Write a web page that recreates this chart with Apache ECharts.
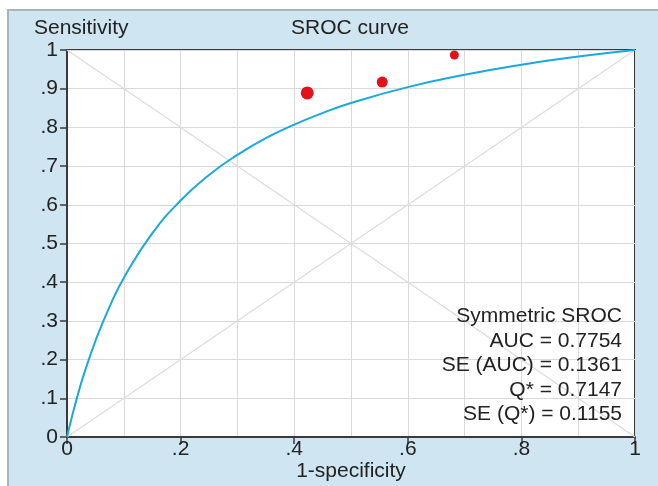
<!DOCTYPE html>
<html>
<head>
<meta charset="utf-8">
<script src="https://cdn.jsdelivr.net/npm/echarts@6/dist/echarts.min.js"></script>
<style>
html,body{margin:0;padding:0;background:#fff;}
#c{width:658px;height:486px;}
</style>
</head>
<body>
<div id="c"></div>
<script>
// SROC curve
var curveX = [0, 0.01, 0.02, 0.03, 0.05, 0.075, 0.1, 0.15, 0.2, 0.25, 0.3, 0.35, 0.4, 0.45, 0.5, 0.6, 0.7, 0.8, 0.9, 1];
var curveY = [0, 0.06, 0.114, 0.163, 0.248, 0.337, 0.411, 0.526, 0.611, 0.677, 0.729, 0.772, 0.807, 0.837, 0.863, 0.904, 0.936, 0.962, 0.983, 1];
// Study points
var studyX = [0.423, 0.555, 0.682];
var studyY = [0.889, 0.917, 0.987];
var studySize = [13, 11, 9];
var statsLines = ['Symmetric SROC', 'AUC = 0.7754', 'SE (AUC) = 0.1361', 'Q* = 0.7147', 'SE (Q*) = 0.1155'];

var FONT = 'Liberation Sans, Arial, sans-serif';
var FS = 21;
var chart = echarts.init(document.getElementById('c'));
function fmt(v){
  if (Math.abs(v) < 1e-9) return '0';
  if (Math.abs(v - 1) < 1e-9) return '1';
  return v.toFixed(1).replace(/^0/, '');
}
var curveData = curveX.map(function(x, i){ return [x, curveY[i]]; });
var studyData = studyX.map(function(x, i){ return {value:[x, studyY[i]], symbolSize: studySize[i]}; });

chart.setOption({
  animation: false,
  textStyle: {fontFamily: FONT},
  graphic: [
    {type:'rect', z:-10, shape:{x:8, y:10, width:660, height:490},
     style:{fill:'#cfe5f1', stroke:'#a9b4ba', lineWidth:2}},
    {type:'text', z:10, x:622, y:304,
     style:{text: statsLines.join('\n'), font: FS + 'px ' + FONT, fill:'#222', textAlign:'right', lineHeight:24.5}}
  ],
  title: [
    {text:'SROC curve', left:291, top:18, textStyle:{fontSize:FS, fontWeight:'normal', color:'#222', fontFamily:FONT}, padding:0},
    {text:'Sensitivity', left:34, top:18, textStyle:{fontSize:FS, fontWeight:'normal', color:'#222', fontFamily:FONT}, padding:0}
  ],
  grid: {left:67, right:23, top:50, bottom:49, outerBoundsMode:'none', containLabel:false,
         show:true, backgroundColor:'#fff', borderColor:'#3a3a3a', borderWidth:2},
  xAxis: {
    type:'value', min:0, max:1, interval:0.2,
    name:'1-specificity', nameLocation:'middle', nameGap:24, nameMoveOverlap:false,
    nameTextStyle:{fontSize:FS, color:'#222', fontFamily:FONT},
    axisLine:{show:true, lineStyle:{color:'#3a3a3a', width:2}},
    axisTick:{show:true, length:7, lineStyle:{color:'#3a3a3a', width:1.5}},
    axisLabel:{formatter:fmt, fontSize:FS, color:'#222', margin:2, fontFamily:FONT},
    splitLine:{show:true, lineStyle:{color:'#dadada', width:1}},
    minorTick:{show:false, splitNumber:2},
    minorSplitLine:{show:true, lineStyle:{color:'#dadada', width:1}}
  },
  yAxis: {
    type:'value', min:0, max:1, interval:0.1,
    axisLine:{show:true, lineStyle:{color:'#3a3a3a', width:2}},
    axisTick:{show:true, length:7, lineStyle:{color:'#3a3a3a', width:1.5}},
    axisLabel:{formatter:fmt, fontSize:FS, color:'#222', margin:9, fontFamily:FONT},
    splitLine:{show:true, lineStyle:{color:'#dadada', width:1}}
  },
  series: [
    {type:'line', data:[[0,0],[1,1]], symbol:'none', silent:true, lineStyle:{color:'#dcdcdc', width:1.2}, z:1},
    {type:'line', data:[[0,1],[1,0]], symbol:'none', silent:true, lineStyle:{color:'#dcdcdc', width:1.2}, z:1},
    {type:'line', data:curveData, smooth:true, symbol:'none', lineStyle:{color:'#1aa9db', width:2}, z:3},
    {type:'scatter', data:studyData, itemStyle:{color:'#e3121a', opacity:1}, z:4}
  ]
});
</script>
</body>
</html>
